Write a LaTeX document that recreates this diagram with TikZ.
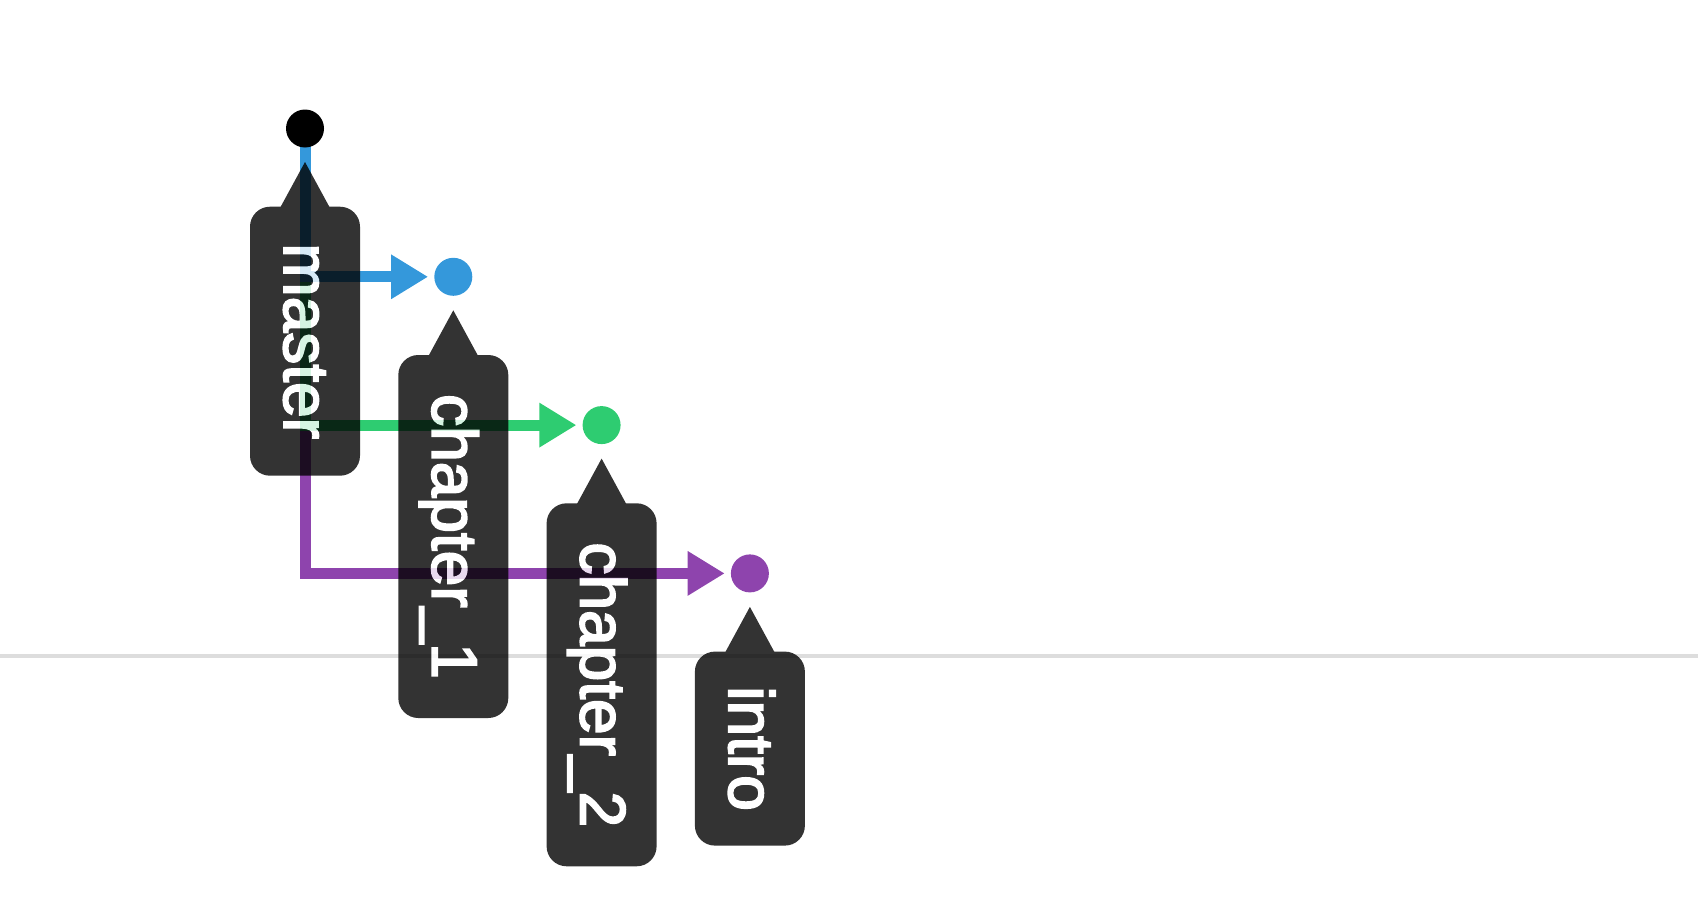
\documentclass[tikz,border=0pt]{standalone}
\usepackage{fontspec}
\newfontfamily\labelfont[FakeBold=3]{Liberation Sans}
\usetikzlibrary{arrows.meta,calc}
\definecolor{cblue}{HTML}{3498DB}
\definecolor{cgreen}{HTML}{2ECC71}
\definecolor{cpurple}{HTML}{8E44AD}
\definecolor{lightrule}{HTML}{DDDDDD}
\pgfdeclarelayer{bg}
\pgfdeclarelayer{edges}
\pgfsetlayers{bg,edges,main}
\tikzset{
  commit/.style={circle, minimum size=38pt, inner sep=0pt, draw=none},
  branchline/.style={line width=11pt, -{Triangle[length=37pt,width=42pt]}, shorten >=6pt},
  tagbox/.style={fill=black, rounded corners=20pt, rotate=-90, anchor=west,
    minimum height=110pt, inner sep=0pt, text=white,
    text height=42pt, text depth=0pt,
    font=\labelfont\fontsize{64}{64}\selectfont},
  ruleline/.style={line width=3.5pt, draw=lightrule},
}
\newcommand{\branchtag}[4]{%
  \begin{scope}[transparency group, opacity=0.8]
    \fill ($(#2.center)+(0,-33.5)$) -- ++(-25,-46) -- ++(50,0) -- cycle;
    \node[tagbox, minimum width=#3] (#1) at ($(#2.center)+(0,-78)$) {#4};
  \end{scope}}
\begin{document}
\begin{tikzpicture}[x=1pt,y=1pt]
  \useasboundingbox (0,-902) rectangle (1698,0);
  \begin{pgfonlayer}{bg}
    \draw[ruleline] (0,-656) -- (1698,-656);
  \end{pgfonlayer}
  % commits
  \node[commit, fill=black]   (c0) at (305,-128.5) {};
  \node[commit, fill=cblue]   (c1) at (453.3,-276.8) {};
  \node[commit, fill=cgreen]  (c2) at (601.6,-425.1) {};
  \node[commit, fill=cpurple] (c3) at (749.9,-573.4) {};
  % branches
  \begin{pgfonlayer}{edges}
    \draw[branchline, cpurple] (c0.center) |- (c3);
    \draw[branchline, cgreen]  (c0.center) |- (c2);
    \draw[branchline, cblue]   (c0.center) |- (c1);
  \end{pgfonlayer}
  % tags
  \branchtag{tmaster}{c0}{269pt}{master}
  \branchtag{tchapone}{c1}{363pt}{chapter\_1}
  \branchtag{tchaptwo}{c2}{363pt}{chapter\_2}
  \branchtag{tintro}{c3}{194pt}{intro}
\end{tikzpicture}
\end{document}
